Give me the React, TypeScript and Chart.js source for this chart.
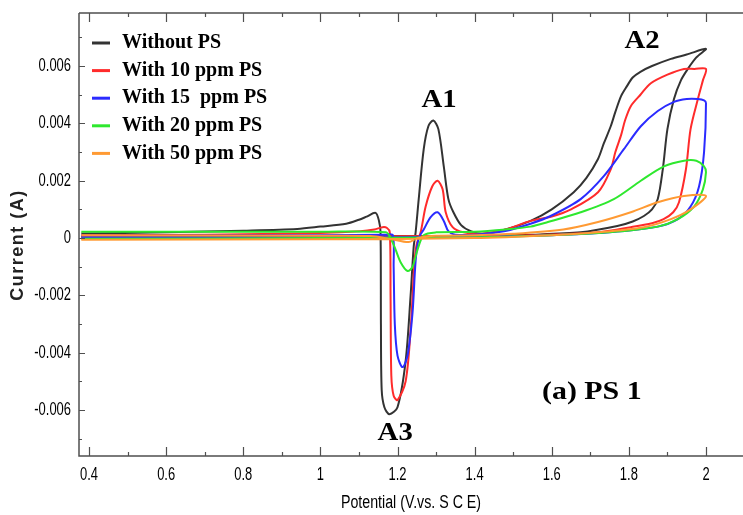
import React, { useEffect, useRef } from 'react';
import { Chart, registerables } from 'chart.js';

Chart.register(...registerables);

// ---------- data ----------
const seriesNames = ['Without PS', 'With 10 ppm PS', 'With 15  ppm PS', 'With 20 ppm PS', 'With 50 ppm PS'];
const seriesColors = ['#333333', '#ff2b2b', '#2b2bff', '#2ee82e', '#ff9a33'];

const withoutPsX = [0.38, 0.7, 1.0, 1.2, 1.4, 1.55, 1.675, 1.77, 1.81, 1.839, 1.86, 1.875, 1.888, 1.90, 1.917, 1.935, 1.953, 1.975, 2.0,
  1.95, 1.909, 1.86, 1.83, 1.81, 1.795, 1.78, 1.765, 1.753, 1.735, 1.72, 1.69, 1.657, 1.6, 1.545, 1.48, 1.42,
  1.39, 1.365, 1.345, 1.332, 1.32, 1.306, 1.293, 1.28, 1.268, 1.255, 1.247, 1.242, 1.234, 1.221, 1.2, 1.179, 1.166, 1.159, 1.157, 1.156, 1.152, 1.143, 1.12, 1.1, 1.067, 1.0, 0.94, 0.8, 0.6, 0.38];
const withoutPsY = [0.00005, 0.00005, 0.00006, 0.00007, 0.00008, 0.00012, 0.0002, 0.00042, 0.00058, 0.00077, 0.001, 0.00136, 0.0024, 0.0038, 0.00485, 0.0055, 0.0059, 0.0063, 0.0066,
  0.0064, 0.00625, 0.006, 0.0058, 0.0056, 0.0053, 0.00496, 0.0044, 0.0039, 0.0033, 0.00276, 0.0021, 0.0016, 0.001, 0.0006, 0.0003, 0.00015,
  0.00024, 0.00045, 0.0009, 0.00136, 0.0025, 0.0038, 0.0041, 0.0039, 0.0031, 0.00136, 0.0002, -0.0003, -0.002, -0.0043, -0.0059, -0.00614, -0.0059, -0.0053, -0.003, 0.0002, 0.0006, 0.00088, 0.00075, 0.00064, 0.0005, 0.0004, 0.00032, 0.00026, 0.0002, 0.00016];

const ppm10X = [0.38, 1.0, 1.4, 1.55, 1.72, 1.805, 1.86, 1.89, 1.915, 1.93, 1.948, 1.96, 1.979, 1.992, 2.0,
  1.97, 1.943, 1.9, 1.857, 1.83, 1.805, 1.79, 1.78, 1.765, 1.753, 1.72, 1.65, 1.6, 1.545, 1.48, 1.42,
  1.371, 1.343, 1.325, 1.317, 1.304, 1.29, 1.273, 1.26, 1.25, 1.244, 1.234, 1.221, 1.2, 1.19, 1.184, 1.182, 1.18, 1.172, 1.161, 1.14, 1.104, 1.0, 0.7, 0.38];
const ppm10Y = [0.00005, 0.00005, 0.00008, 0.0001, 0.0002, 0.00038, 0.00052, 0.00066, 0.0009, 0.00125, 0.0024, 0.0038, 0.00485, 0.0055, 0.0059,
  0.0059, 0.0059, 0.0057, 0.0054, 0.005, 0.0046, 0.0041, 0.0036, 0.003, 0.0024, 0.0016, 0.001, 0.00075, 0.0006, 0.0003, 0.00015,
  0.0002, 0.00038, 0.0009, 0.0017, 0.002, 0.0018, 0.0011, 0.0002, -0.0002, -0.00084, -0.0032, -0.005, -0.00565, -0.0055, -0.0048, -0.002, 0.0002, 0.00036, 0.00038, 0.0003, 0.00024, 0.00018, 0.00012, 0.0001];

const ppm15X = [0.38, 1.0, 1.4, 1.6, 1.75, 1.875, 1.927, 1.96, 1.982, 1.995, 2.0,
  1.995, 1.979, 1.95, 1.917, 1.875, 1.831, 1.787, 1.735, 1.675, 1.597, 1.545, 1.48, 1.4, 1.35,
  1.332, 1.32, 1.304, 1.286, 1.268, 1.255, 1.247, 1.239, 1.226, 1.213, 1.2, 1.193, 1.19, 1.188, 1.17, 1.0, 0.38];
const ppm15Y = [0.0, 0.00002, 0.00005, 0.0001, 0.0002, 0.0004, 0.00066, 0.0011, 0.0018, 0.003, 0.0047,
  0.0048, 0.00485, 0.00485, 0.00475, 0.00443, 0.0039, 0.0031, 0.00216, 0.00136, 0.00077, 0.0005, 0.00025, 0.00012, 0.00012,
  0.00024, 0.0006, 0.0009, 0.00073, 0.0003, 0.0, -0.0008, -0.0026, -0.0041, -0.0045, -0.0041, -0.003, -0.001, 0.0001, 0.00012, 0.0001, 0.00008];

const ppm20X = [0.38, 1.0, 1.4, 1.6, 1.75, 1.875, 1.927, 1.969, 1.992, 2.0,
  1.995, 1.975, 1.943, 1.891, 1.831, 1.761, 1.675, 1.59, 1.545, 1.48, 1.4, 1.3,
  1.268, 1.252, 1.239, 1.226, 1.208, 1.195, 1.182, 1.17, 1.0, 0.38];
const ppm20Y = [-0.00002, 0.0, 0.00003, 0.0001, 0.0002, 0.0004, 0.00066, 0.0011, 0.0017, 0.0023,
  0.0025, 0.0027, 0.0027, 0.0025, 0.002, 0.00136, 0.0009, 0.00056, 0.0004, 0.0003, 0.00022, 0.0002,
  0.0001, -0.0004, -0.001, -0.00115, -0.00084, -0.0004, 0.0, 0.0002, 0.00022, 0.00022];

const ppm50X = [0.38, 1.0, 1.4, 1.6, 1.72, 1.839, 1.909, 1.96, 2.0,
  1.943, 1.875, 1.805, 1.72, 1.63, 1.5, 1.4, 1.3, 1.252, 1.229, 1.182, 1.13, 1.0, 0.38];
const ppm50Y = [-0.00006, -0.00004, 0.0, 0.0001, 0.0002, 0.00038, 0.00066, 0.001, 0.00147,
  0.00147, 0.00125, 0.0009, 0.00056, 0.0003, 0.00015, 0.0001, 0.00008, 0.0, -0.00014, -0.00003, 0.00007, 0.00008, 0.0001];

const xTicks = [0.4, 0.6, 0.8, 1.0, 1.2, 1.4, 1.6, 1.8, 2.0];
const xTickLabels = ['0.4', '0.6', '0.8', '1', '1.2', '1.4', '1.6', '1.8', '2'];
const xMinorTicks = [0.5, 0.7, 0.9, 1.1, 1.3, 1.5, 1.7, 1.9];
const yTicks = [-0.006, -0.004, -0.002, 0, 0.002, 0.004, 0.006];
const yTickLabels = ['-0.006', '-0.004', '-0.002', '0', '0.002', '0.004', '0.006'];
const yMinorTicks = [-0.007, -0.005, -0.003, -0.001, 0.001, 0.003, 0.005, 0.007];

const peakLabels = ['A1', 'A2', 'A3'];
const peakLabelX = [1.308, 1.834, 1.194];
const peakLabelY = [0.00481, 0.00687, -0.0068];
const panelLabel = '(a) PS 1';
const xTitle = 'Potential (V.vs. S C E)';
const yTitle = 'Current (A)';

const seriesX = [withoutPsX, ppm10X, ppm15X, ppm20X, ppm50X];
const seriesY = [withoutPsY, ppm10Y, ppm15Y, ppm20Y, ppm50Y];

const SANS = "'Liberation Sans', Arial, sans-serif";
const SERIF = "'Liberation Serif', 'Times New Roman', serif";

function drawText(ctx: CanvasRenderingContext2D, s: string, x: number, y: number, font: string, align: CanvasTextAlign, sx = 1, color = '#1a1a1a') {
  ctx.save();
  ctx.translate(x, y);
  ctx.scale(sx, 1);
  ctx.font = font;
  ctx.textAlign = align;
  ctx.textBaseline = 'middle';
  ctx.fillStyle = color;
  ctx.fillText(s, 0, 0);
  ctx.restore();
}

const decorPlugin = {
  id: 'cvDecor',
  afterDraw(chart: any) {
    const ctx: CanvasRenderingContext2D = chart.ctx;
    const ca = chart.chartArea;
    const xs = chart.scales.x;
    const ys = chart.scales.y;
    ctx.save();
    ctx.strokeStyle = '#4f4f4f';
    ctx.lineWidth = 1.5;
    ctx.beginPath();
    ctx.moveTo(ca.left, ca.top);
    ctx.lineTo(ca.left, ca.bottom);
    ctx.lineTo(ca.right, ca.bottom);
    ctx.moveTo(ca.left, ca.top);
    ctx.lineTo(ca.right, ca.top);
    ctx.stroke();

    ctx.lineWidth = 1.2;
    ctx.beginPath();
    xTicks.forEach((v) => {
      const px = Math.round(xs.getPixelForValue(v)) + 0.5;
      ctx.moveTo(px, ca.bottom); ctx.lineTo(px, ca.bottom - 9);
      ctx.moveTo(px, ca.top); ctx.lineTo(px, ca.top + 9);
    });
    xMinorTicks.forEach((v) => {
      const px = Math.round(xs.getPixelForValue(v)) + 0.5;
      ctx.moveTo(px, ca.bottom); ctx.lineTo(px, ca.bottom - 4);
      ctx.moveTo(px, ca.top); ctx.lineTo(px, ca.top + 4);
    });
    yTicks.forEach((v) => {
      const py = Math.round(ys.getPixelForValue(v)) + 0.5;
      ctx.moveTo(ca.left, py); ctx.lineTo(ca.left + 6, py);
    });
    yMinorTicks.forEach((v) => {
      const py = Math.round(ys.getPixelForValue(v)) + 0.5;
      if (py > ca.top + 2 && py < ca.bottom - 2) { ctx.moveTo(ca.left, py); ctx.lineTo(ca.left + 3, py); }
    });
    ctx.stroke();

    // tick labels
    xTicks.forEach((v, i) => {
      drawText(ctx, xTickLabels[i], xs.getPixelForValue(v), ca.bottom + 19, `18px ${SANS}`, 'center', 0.72, '#000');
    });
    yTicks.forEach((v, i) => {
      drawText(ctx, yTickLabels[i], ca.left - 8, ys.getPixelForValue(v), `18px ${SANS}`, 'right', 0.72, '#000');
    });

    // axis titles
    drawText(ctx, xTitle, (ca.left + ca.right) / 2, ca.bottom + 47, `18px ${SANS}`, 'center', 0.79, '#000');
    ctx.save();
    ctx.translate(18, 245);
    ctx.rotate(-Math.PI / 2);
    (ctx as any).letterSpacing = '1.5px';
    ctx.font = `bold 18px ${SANS}`;
    ctx.textAlign = 'center';
    ctx.textBaseline = 'middle';
    ctx.fillStyle = '#222';
    ctx.fillText(yTitle, 0, 0);
    ctx.restore();

    // legend
    seriesNames.forEach((name, i) => {
      const cy = ca.top + 30 + i * 27.6;
      ctx.strokeStyle = seriesColors[i];
      ctx.lineWidth = 3;
      ctx.beginPath();
      ctx.moveTo(ca.left + 13, cy);
      ctx.lineTo(ca.left + 31, cy);
      ctx.stroke();
      drawText(ctx, name, ca.left + 43, cy, `bold 20px ${SERIF}`, 'left', 1, '#000');
    });

    // peak labels
    peakLabels.forEach((s, i) => {
      drawText(ctx, s, xs.getPixelForValue(peakLabelX[i]), ys.getPixelForValue(peakLabelY[i]), `bold 25px ${SERIF}`, 'center', 1.15, '#000');
    });
    drawText(ctx, panelLabel, xs.getPixelForValue(1.704), ys.getPixelForValue(-0.00537), `bold 26px ${SERIF}`, 'center', 1.15, '#000');
    ctx.restore();
  },
};

export default function App() {
  const canvasRef = useRef<HTMLCanvasElement | null>(null);
  useEffect(() => {
    const canvas = canvasRef.current;
    if (!canvas) return;
    const order = [5, 4, 3, 2, 1];
    const datasets = seriesNames.map((name, i) => ({
      label: name,
      data: seriesX[i].map((x, j) => ({ x, y: seriesY[i][j] })),
      borderColor: seriesColors[i],
      backgroundColor: seriesColors[i],
      borderWidth: 2,
      pointRadius: 0,
      showLine: true,
      fill: false,
      tension: 0.3,
      order: order[i],
    }));
    const chart = new Chart(canvas, {
      type: 'scatter',
      data: { datasets },
      options: {
        responsive: false,
        animation: false,
        devicePixelRatio: 1,
        layout: { padding: { left: 79, top: 13, right: 0, bottom: 59 } },
        plugins: { legend: { display: false }, tooltip: { enabled: false } },
        scales: {
          x: { type: 'linear', min: 0.374, max: 2.096, display: false },
          y: { type: 'linear', min: -0.0076, max: 0.00785, display: false },
        },
      },
      plugins: [decorPlugin],
    });
    return () => chart.destroy();
  }, []);
  return (
    <div style={{ position: 'fixed', left: 0, top: 0, width: 743, height: 515, background: '#fff' }}>
      <canvas ref={canvasRef} width={743} height={515} style={{ display: 'block' }} />
    </div>
  );
}
